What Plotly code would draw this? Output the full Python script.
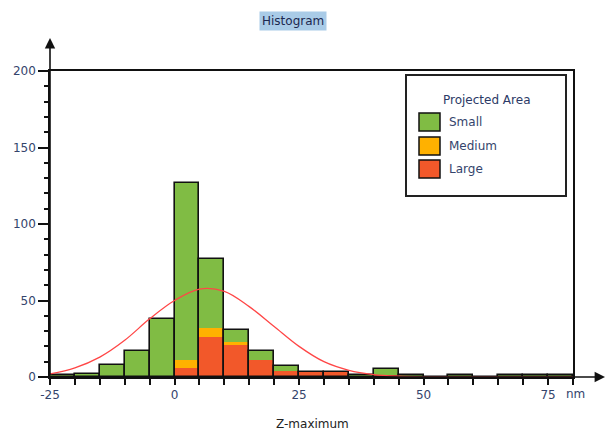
import plotly.graph_objects as go

# ---- data ----
bin_left = [-25, -20, -15, -10, -5, 0, 5, 10, 15, 20, 25, 30, 35, 40, 45, 50, 55, 60, 65, 70, 75]
bin_width = 5
small = [1, 2, 8, 17, 38, 116, 45, 8, 6, 3, 0, 0, 1, 4, 1, 0, 1, 0, 1, 1, 1]
medium = [0, 0, 0, 0, 0, 5, 6, 2, 0, 0, 0, 0, 0, 0, 0, 0, 0, 0, 0, 0, 0]
large = [0, 0, 0, 0, 0, 6, 26, 21, 11, 4, 3, 3, 0, 1, 0, 0, 0, 0, 0, 0, 0]

curve_x = [-25, -20, -15, -10, -5, 0, 5, 10, 15, 20, 25, 30, 35, 40, 45, 50, 55, 60, 65, 70, 75, 80]
curve_y = [2, 6, 13, 24, 38, 50, 57.5, 56, 46, 33, 20, 10, 4.4, 1.6, 0.5, 0.1, 0, 0, 0, 0, 0, 0]

x_tick_vals = [-25, 0, 25, 50, 75]
x_tick_text = ["-25", "0", "25", "50", "75"]
x_unit = "nm"
y_tick_vals = [0, 50, 100, 150, 200]

series_names = ["Small", "Medium", "Large"]
series_colors = {"Small": "#80bc44", "Medium": "#ffb100", "Large": "#f2582a"}

title_text = "Histogram"
legend_title = "Projected Area"
x_title = "Z-maximum"

# ---- derived ----
centers = [b + bin_width / 2 for b in bin_left]
base_medium = list(large)
base_small = [l + m for l, m in zip(large, medium)]
total = [s + m + l for s, m, l in zip(small, medium, large)]

FONT = "DejaVu Sans"
TXT = "#34446c"

fig = go.Figure()
fig.add_trace(go.Bar(x=centers, y=large, base=[0] * len(large), width=bin_width,
                     marker=dict(color=series_colors["Large"], line=dict(width=0)), name="Large"))
fig.add_trace(go.Bar(x=centers, y=medium, base=base_medium, width=bin_width,
                     marker=dict(color=series_colors["Medium"], line=dict(width=0)), name="Medium"))
fig.add_trace(go.Bar(x=centers, y=small, base=base_small, width=bin_width,
                     marker=dict(color=series_colors["Small"], line=dict(width=0)), name="Small"))
# outline of each whole bar
fig.add_trace(go.Bar(x=centers, y=total, base=[0] * len(total), width=bin_width,
                     marker=dict(color="rgba(0,0,0,0)", line=dict(color="#111", width=1.6)),
                     name="outline", hoverinfo="skip"))
fig.add_trace(go.Scatter(x=curve_x, y=curve_y, mode="lines", line=dict(color="#ff4646", width=1.3, shape="spline", smoothing=1.0),
                         name="fit"))

X0, X1, YB, YT = 50, 573, 377, 71
def px(x):
    return (x - X0) / (X1 - X0)
def py(y):
    return (YB - y) / (YB - YT)

shapes = []
annotations = []

# legend box
shapes.append(dict(type="rect", xref="paper", yref="paper", x0=px(406), x1=px(566), y0=py(196), y1=py(75),
                   line=dict(color="#222", width=2), fillcolor="white", layer="above"))
annotations.append(dict(xref="paper", yref="paper", x=px(487), y=py(100), text=legend_title, showarrow=False,
                        font=dict(family=FONT, size=12, color="#2c3a66"), xanchor="center", yanchor="middle"))
item_y = [(113, 131), (137, 155), (160, 178)]
for name, (ya, yb) in zip(series_names, item_y):
    shapes.append(dict(type="rect", xref="paper", yref="paper", x0=px(419), x1=px(440), y0=py(yb), y1=py(ya),
                       line=dict(color="#111", width=1.5), fillcolor=series_colors[name], layer="above"))
    annotations.append(dict(xref="paper", yref="paper", x=px(447), y=py((ya + yb) / 2), text=name, showarrow=False,
                            font=dict(family=FONT, size=12, color=TXT), xanchor="left", yanchor="middle"))

# title with highlight
annotations.append(dict(xref="paper", yref="paper", x=px(293), y=py(21), text=title_text, showarrow=False,
                        font=dict(family=FONT, size=12, color="#1c2850"), bgcolor="#a9cbe7", borderpad=2,
                        xanchor="center", yanchor="middle"))
# x axis title
annotations.append(dict(xref="paper", yref="paper", x=px(312), y=py(424), text=x_title, showarrow=False,
                        font=dict(family=FONT, size=12, color="#222"), xanchor="center", yanchor="middle"))
# unit after last tick label
annotations.append(dict(xref="x", yref="paper", x=78.2, y=py(394), text=x_unit, showarrow=False,
                        font=dict(family=FONT, size=12, color=TXT), xanchor="left", yanchor="middle"))
# axis arrows
annotations.append(dict(xref="paper", yref="paper", x=0, y=py(38), ax=0, ay=YB - 38, axref="pixel", ayref="pixel",
                        text="", showarrow=True, arrowhead=2, arrowsize=1.3, arrowwidth=1.6, arrowcolor="#111", standoff=0))
annotations.append(dict(xref="paper", yref="paper", x=px(605), y=0, ax=-(605 - X0), ay=0, axref="pixel", ayref="pixel",
                        text="", showarrow=True, arrowhead=2, arrowsize=1.3, arrowwidth=1.6, arrowcolor="#111", standoff=0))

fig.update_layout(
    width=607, height=432,
    margin=dict(l=X0, r=607 - X1, t=YT, b=432 - YB, pad=0),
    paper_bgcolor="white", plot_bgcolor="white",
    barmode="overlay", bargap=0,
    showlegend=False,
    shapes=shapes, annotations=annotations,
    font=dict(family=FONT, size=12, color=TXT),
    xaxis=dict(range=[-25, 80], tickmode="array", tickvals=x_tick_vals, ticktext=x_tick_text,
               showgrid=False, zeroline=False, showline=True, linecolor="#111", linewidth=1.6, mirror=True,
               ticks="outside", ticklen=6, tickwidth=1.5, tickcolor="#111",
               tickfont=dict(family=FONT, size=12, color=TXT),
               minor=dict(tickmode="linear", tick0=-25, dtick=5, ticks="outside", ticklen=6, tickwidth=1.5, tickcolor="#111")),
    yaxis=dict(range=[0, 200], tickmode="array", tickvals=y_tick_vals,
               showgrid=False, zeroline=False, showline=True, linecolor="#111", linewidth=1.6, mirror=True,
               ticks="outside", ticklen=10, tickwidth=1.5, tickcolor="#111",
               tickfont=dict(family=FONT, size=12, color=TXT),
               minor=dict(tickmode="linear", tick0=0, dtick=10, ticks="outside", ticklen=4, tickwidth=1.5, tickcolor="#111")),
)

fig.write_html("out.html", config={"displayModeBar": False},
               post_script="document.body.style.margin='0px';document.body.style.overflow='hidden';")
